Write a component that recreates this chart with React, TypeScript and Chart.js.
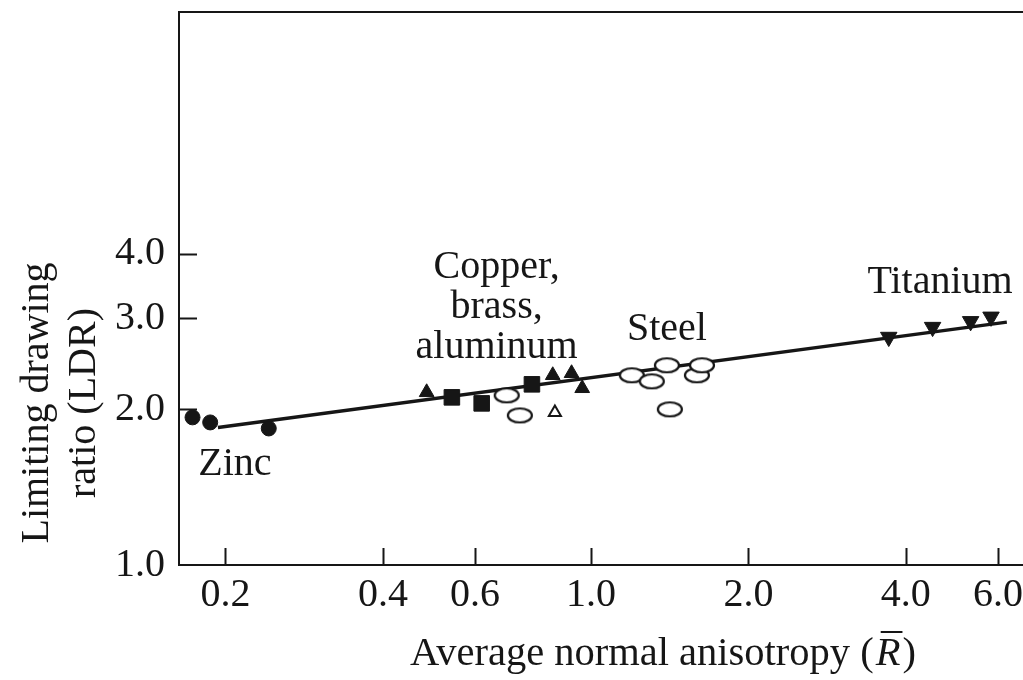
import React, { useEffect, useRef } from "react";
import { Chart, registerables } from "chart.js";

Chart.register(...registerables);

// ---- data (log-log axes) ----
const zincX = [0.173, 0.187, 0.242];
const zincY = [1.93, 1.887, 1.837];
const filledTriX = [0.485, 0.845, 0.918, 0.962];
const filledTriY = [2.158, 2.328, 2.349, 2.197];
const squareX = [0.542, 0.618, 0.771];
const squareY = [2.11, 2.054, 2.236];
const openTriX = [0.853];
const openTriY = [1.973];
const steelX = [0.69, 0.731, 1.197, 1.307, 1.397, 1.415, 1.594, 1.63];
const steelY = [2.129, 1.947, 2.328, 2.266, 2.434, 2.0, 2.328, 2.434];
const titaniumX = [3.71, 4.5, 5.32, 5.82];
const titaniumY = [2.76, 2.885, 2.96, 3.02];
const fitX = [0.1935, 6.24];
const fitY = [1.845, 2.95];

const xTickValues = [0.2, 0.4, 0.6, 1.0, 2.0, 4.0, 6.0];
const yTickValues = [1.0, 2.0, 3.0, 4.0];
const xMin = 0.163;
const xMax = 6.7;
const yMin = 1.0;
const yMax = 11.74;

const groupLabels = ["Zinc", "Copper,\nbrass,\naluminum", "Steel", "Titanium"];
const groupLabelX = [0.2085, 0.66, 1.397, 4.65];
const groupLabelY = [1.493, 3.59, 2.72, 3.36];

const yTitleLines = ["Limiting drawing", "ratio (LDR)"];
const xTitleText = "Average normal anisotropy (";
const xTitleSymbol = "R";

const FONT = "'Liberation Serif', 'Times New Roman', serif";
const INK = "#161616";

const zip = (xs: number[], ys: number[]) => xs.map((x, i) => ({ x, y: ys[i] }));

function makeEllipse(): HTMLCanvasElement {
  const c = document.createElement("canvas");
  c.width = 28;
  c.height = 18;
  const g = c.getContext("2d")!;
  g.beginPath();
  g.ellipse(14, 9, 12, 7, 0, 0, Math.PI * 2);
  g.fillStyle = "#fff";
  g.fill();
  g.lineWidth = 2.2;
  g.strokeStyle = INK;
  g.stroke();
  return c;
}

const decorPlugin = {
  id: "decor",
  afterDraw(chart: any) {
    const { ctx, chartArea, scales } = chart;
    const xs = scales.x;
    const ys = scales.y;
    ctx.save();
    ctx.strokeStyle = INK;
    ctx.lineWidth = 2;
    // top border
    ctx.beginPath();
    ctx.moveTo(chartArea.left, chartArea.top);
    ctx.lineTo(chartArea.right, chartArea.top);
    ctx.stroke();
    // inward ticks
    ctx.beginPath();
    xTickValues.forEach((v) => {
      const px = Math.round(xs.getPixelForValue(v)) + 0.5;
      ctx.moveTo(px, chartArea.bottom);
      ctx.lineTo(px, chartArea.bottom - 17);
    });
    yTickValues.forEach((v) => {
      if (v === yMin) return;
      const py = Math.round(ys.getPixelForValue(v)) + 0.5;
      ctx.moveTo(chartArea.left, py);
      ctx.lineTo(chartArea.left + 18, py);
    });
    ctx.stroke();

    // group labels
    ctx.fillStyle = INK;
    ctx.font = `40px ${FONT}`;
    ctx.textAlign = "center";
    ctx.textBaseline = "alphabetic";
    groupLabels.forEach((t, i) => {
      const px = xs.getPixelForValue(groupLabelX[i]);
      const py = ys.getPixelForValue(groupLabelY[i]);
      t.split("\n").forEach((line, j) => ctx.fillText(line, px, py + j * 40));
    });

    // y axis title (two rotated lines)
    const midY = 403;
    ctx.save();
    ctx.translate(48, midY);
    ctx.rotate(-Math.PI / 2);
    ctx.fillText(yTitleLines[0], 0, 0);
    ctx.restore();
    ctx.save();
    ctx.translate(95, midY);
    ctx.rotate(-Math.PI / 2);
    ctx.fillText(yTitleLines[1], 0, 0);
    ctx.restore();

    // x axis title with italic R-bar
    ctx.textAlign = "left";
    const base = 665;
    let x0 = 410;
    ctx.font = `40.5px ${FONT}`;
    ctx.fillText(xTitleText, x0, base);
    x0 += ctx.measureText(xTitleText).width;
    ctx.font = `italic 40.5px ${FONT}`;
    ctx.fillText(xTitleSymbol, x0 + 2, base);
    const rw = ctx.measureText(xTitleSymbol).width;
    ctx.lineWidth = 2;
    ctx.beginPath();
    ctx.moveTo(x0 + 7, base - 33);
    ctx.lineTo(x0 + rw + 4, base - 33);
    ctx.stroke();
    ctx.font = `40.5px ${FONT}`;
    ctx.fillText(")", x0 + rw + 4, base);
    ctx.restore();
  },
};

export default function App() {
  const ref = useRef<HTMLCanvasElement | null>(null);

  useEffect(() => {
    if (!ref.current) return;
    const ellipse = makeEllipse();
    const markerBase = {
      type: "scatter" as const,
      showLine: false,
      borderColor: INK,
      backgroundColor: INK,
      borderWidth: 1,
      order: 0,
    };
    const chart = new Chart(ref.current, {
      type: "scatter",
      data: {
        datasets: [
          { ...markerBase, label: "Zinc", data: zip(zincX, zincY), pointStyle: "circle", pointRadius: 7.5 },
          { ...markerBase, label: "Filled triangles", data: zip(filledTriX, filledTriY), pointStyle: "triangle", pointRadius: 8.5 },
          { ...markerBase, label: "Squares", data: zip(squareX, squareY), pointStyle: "rect", pointRadius: 11 },
          { ...markerBase, label: "Open triangle", data: zip(openTriX, openTriY), pointStyle: "triangle", pointRadius: 7, backgroundColor: "#fff", borderWidth: 2 },
          { ...markerBase, label: "Steel", data: zip(steelX, steelY), pointStyle: ellipse as any, pointRadius: 12 },
          { ...markerBase, label: "Titanium", data: zip(titaniumX, titaniumY), pointStyle: "triangle", pointRotation: 180, pointRadius: 9.5 },
          {
            type: "scatter" as const,
            label: "Fit",
            data: zip(fitX, fitY),
            showLine: true,
            borderColor: INK,
            borderWidth: 3.5,
            pointRadius: 0,
            order: 10,
          },
        ],
      },
      options: {
        animation: false,
        responsive: false,
        layout: { autoPadding: false, padding: { top: 12, right: 0, left: 0, bottom: 0 } },
        plugins: { legend: { display: false }, tooltip: { enabled: false } },
        scales: {
          x: {
            type: "logarithmic",
            min: xMin,
            max: xMax,
            afterBuildTicks: (s: any) => {
              s.ticks = xTickValues.map((v) => ({ value: v }));
            },
            afterFit: (s: any) => {
              s.height = 115;
              s.paddingLeft = 0;
              s.paddingRight = 0;
            },
            grid: { display: false, drawTicks: true, tickLength: 6 },
            border: { display: true, color: INK, width: 2 },
            ticks: {
              autoSkip: false,
              maxRotation: 0,
              padding: 0,
              color: INK,
              font: { family: FONT, size: 40 },
              callback: (v: any) => Number(v).toFixed(1),
            },
          },
          y: {
            type: "logarithmic",
            min: yMin,
            max: yMax,
            afterBuildTicks: (s: any) => {
              s.ticks = yTickValues.map((v) => ({ value: v }));
            },
            afterFit: (s: any) => {
              s.width = 179;
              s.paddingTop = 0;
              s.paddingBottom = 0;
            },
            grid: { display: false, drawTicks: true, tickLength: 14 },
            border: { display: true, color: INK, width: 2 },
            ticks: {
              autoSkip: false,
              padding: 0,
              color: INK,
              font: { family: FONT, size: 40 },
              callback: (v: any) => Number(v).toFixed(1),
            },
          },
        },
      } as any,
      plugins: [decorPlugin],
    });
    return () => chart.destroy();
  }, []);

  return (
    <div style={{ position: "absolute", left: 0, top: 0, width: 1023, height: 680, background: "#fff" }}>
      <canvas ref={ref} width={1023} height={680} style={{ display: "block" }} />
    </div>
  );
}
